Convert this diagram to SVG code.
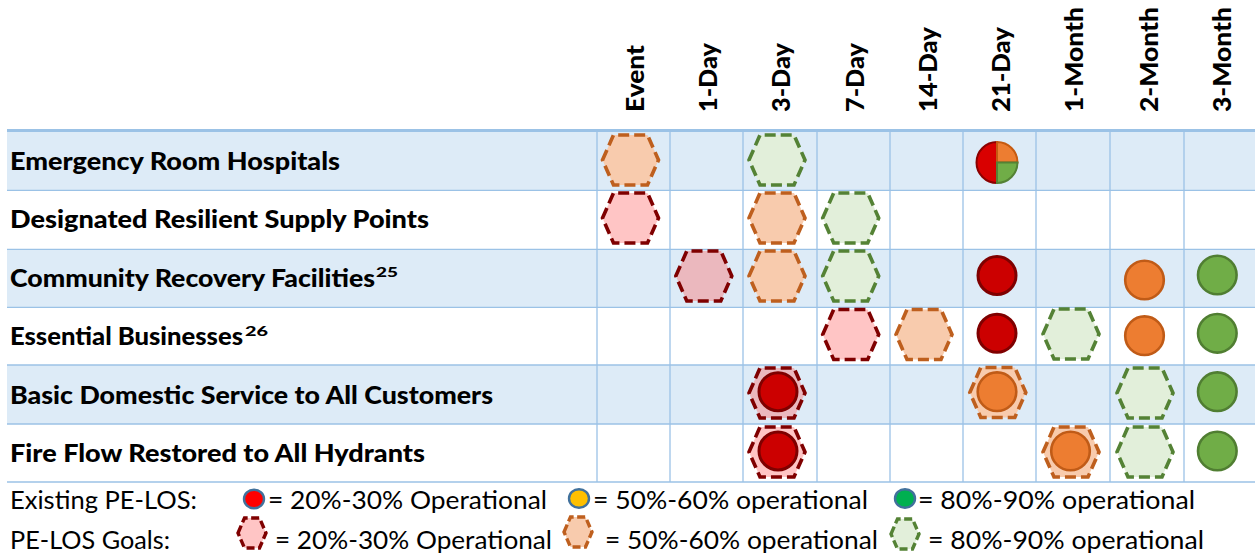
<svg xmlns="http://www.w3.org/2000/svg" xmlns:xlink="http://www.w3.org/1999/xlink" width="1255" height="559" viewBox="0 0 1255 559">
<style>
text{font-family:Lato,"Open Sans","Liberation Sans",sans-serif;fill:#000}
.lbl{font-weight:900;font-size:24px}
.sup{font-weight:900;font-size:14px}
.hdr{font-weight:900;font-size:25.5px}
.leg{font-weight:400;font-size:25px}
.grid{stroke:#9BC2E6;stroke-width:1.3;fill:none}
.band{fill:#DDEBF7}
.hex{stroke-width:3.6;stroke-dasharray:11 5}
.hexs{stroke-width:3.4;stroke-dasharray:8 3.5}
.hr{stroke:#7F0000;fill:#FFC5C5}
.hrb{stroke:#7F0000;fill:#EBB8BE}
.ho{stroke:#BE5F1E;fill:#F8CBAD}
.hg{stroke:#548235;fill:#E2EFDA}
.cr{fill:#CC0000;stroke:#7F0000;stroke-width:3}
.co{fill:#ED7D31;stroke:#C05B17;stroke-width:2.6}
.cg{fill:#70AD47;stroke:#507E32;stroke-width:2.6}
.lc{stroke:#41719C;stroke-width:2.4}
</style>
<defs>
<polygon id="hx" points="-28,0 -17,-25 17,-25 28,0 17,25 -17,25"/>
<polygon id="hxs" points="-14,0 -7.5,-15 7.5,-15 14,0 7.5,15 -7.5,15"/>
</defs>
<rect width="1255" height="559" fill="#fff"/>
<g id="table">
<rect class="band" x="7" y="131" width="1248" height="59"/>
<rect class="band" x="7" y="249" width="1248" height="58"/>
<rect class="band" x="7" y="365" width="1248" height="59"/>
<rect x="7" y="129" width="1248" height="3" fill="#9BC2E6"/>
<g class="grid">
<line x1="7" y1="190.3" x2="1255" y2="190.3"/>
<line x1="7" y1="249.3" x2="1255" y2="249.3"/>
<line x1="7" y1="307.3" x2="1255" y2="307.3"/>
<line x1="7" y1="365" x2="1255" y2="365"/>
<line x1="7" y1="424" x2="1255" y2="424"/>
<line x1="7" y1="482" x2="1255" y2="482"/>
<line x1="597" y1="130" x2="597" y2="482"/>
<line x1="670" y1="130" x2="670" y2="482"/>
<line x1="743" y1="130" x2="743" y2="482"/>
<line x1="817" y1="130" x2="817" y2="482"/>
<line x1="890" y1="130" x2="890" y2="482"/>
<line x1="963" y1="130" x2="963" y2="482"/>
<line x1="1036" y1="130" x2="1036" y2="482"/>
<line x1="1110" y1="130" x2="1110" y2="482"/>
<line x1="1184" y1="130" x2="1184" y2="482"/>
</g>
</g>
<g id="headers">
<text class="hdr" transform="translate(643.5,112) rotate(-90)" textLength="67" lengthAdjust="spacingAndGlyphs">Event</text>
<text class="hdr" transform="translate(716.5,112) rotate(-90)" textLength="69" lengthAdjust="spacingAndGlyphs">1-Day</text>
<text class="hdr" transform="translate(790,112) rotate(-90)" textLength="69" lengthAdjust="spacingAndGlyphs">3-Day</text>
<text class="hdr" transform="translate(863.5,112) rotate(-90)" textLength="69" lengthAdjust="spacingAndGlyphs">7-Day</text>
<text class="hdr" transform="translate(936.5,112) rotate(-90)" textLength="85" lengthAdjust="spacingAndGlyphs">14-Day</text>
<text class="hdr" transform="translate(1009.5,112) rotate(-90)" textLength="85" lengthAdjust="spacingAndGlyphs">21-Day</text>
<text class="hdr" transform="translate(1083,112) rotate(-90)" textLength="105" lengthAdjust="spacingAndGlyphs">1-Month</text>
<text class="hdr" transform="translate(1157.5,112) rotate(-90)" textLength="105" lengthAdjust="spacingAndGlyphs">2-Month</text>
<text class="hdr" transform="translate(1230.5,112) rotate(-90)" textLength="105" lengthAdjust="spacingAndGlyphs">3-Month</text>
</g>
<g id="row-labels">
<text class="lbl" x="10" y="169.5" textLength="330" lengthAdjust="spacingAndGlyphs">Emergency Room Hospitals</text>
<text class="lbl" x="10" y="228" textLength="419" lengthAdjust="spacingAndGlyphs">Designated Resilient Supply Points</text>
<text class="lbl" x="10" y="286.5" textLength="365" lengthAdjust="spacingAndGlyphs">Community Recovery Facilities</text>
<text class="sup" x="376" y="277" textLength="22" lengthAdjust="spacingAndGlyphs">25</text>
<text class="lbl" x="10" y="345" textLength="233" lengthAdjust="spacingAndGlyphs">Essential Businesses</text>
<text class="sup" x="245" y="335.5" textLength="23" lengthAdjust="spacingAndGlyphs">26</text>
<text class="lbl" x="10" y="403.5" textLength="483" lengthAdjust="spacingAndGlyphs">Basic Domestic Service to All Customers</text>
<text class="lbl" x="10" y="462" textLength="415" lengthAdjust="spacingAndGlyphs">Fire Flow Restored to All Hydrants</text>
</g>
<g id="row1">
<use xlink:href="#hx" href="#hx" class="hex ho" x="630.5" y="160"/>
<use xlink:href="#hx" href="#hx" class="hex hg" x="777" y="160"/>
<g id="pie-21day">
<path d="M997,142 A20.5,20.5 0 0 0 997,183 Z" fill="#D90000" stroke="#8B0000" stroke-width="2"/>
<path d="M997,162.5 L997,142 A20.5,20.5 0 0 1 1017.5,162.5 Z" fill="#ED7D31" stroke="#C55A11" stroke-width="2"/>
<path d="M997,162.5 L1017.5,162.5 A20.5,20.5 0 0 1 997,183 Z" fill="#70AD47" stroke="#548235" stroke-width="2"/>
</g>
</g>
<g id="row2">
<use xlink:href="#hx" href="#hx" class="hex hr" x="630.5" y="218"/>
<use xlink:href="#hx" href="#hx" class="hex ho" x="777" y="218"/>
<use xlink:href="#hx" href="#hx" class="hex hg" x="850.7" y="218"/>
</g>
<g id="row3">
<use xlink:href="#hx" href="#hx" class="hex hrb" x="703.8" y="276"/>
<use xlink:href="#hx" href="#hx" class="hex ho" x="777" y="276"/>
<use xlink:href="#hx" href="#hx" class="hex hg" x="850.7" y="276"/>
<circle class="cr" cx="997" cy="275.5" r="19"/>
<circle class="co" cx="1144.5" cy="280" r="19.3"/>
<circle class="cg" cx="1217.3" cy="275" r="19.3"/>
</g>
<g id="row4">
<use xlink:href="#hx" href="#hx" class="hex hr" x="850.7" y="334.5"/>
<use xlink:href="#hx" href="#hx" class="hex ho" x="924" y="334.5"/>
<circle class="cr" cx="997" cy="333.3" r="19"/>
<use xlink:href="#hx" href="#hx" class="hex hg" x="1071" y="334"/>
<circle class="co" cx="1144.5" cy="335.7" r="19.3"/>
<circle class="cg" cx="1217.3" cy="333.3" r="19.3"/>
</g>
<g id="row5">
<use xlink:href="#hx" href="#hx" class="hex hrb" x="777" y="393"/>
<circle class="cr" cx="778" cy="391.7" r="19"/>
<use xlink:href="#hx" href="#hx" class="hex ho" x="997.8" y="392.5"/>
<circle class="co" cx="997" cy="391.7" r="19.3"/>
<use xlink:href="#hx" href="#hx" class="hex hg" x="1145" y="393"/>
<circle class="cg" cx="1217.3" cy="391.7" r="19.3"/>
</g>
<g id="row6">
<use xlink:href="#hx" href="#hx" class="hex hr" x="777" y="452"/>
<circle class="cr" cx="778" cy="451" r="19"/>
<use xlink:href="#hx" href="#hx" class="hex ho" x="1071" y="452"/>
<circle class="co" cx="1070.5" cy="451" r="19.3"/>
<use xlink:href="#hx" href="#hx" class="hex hg" x="1145" y="452"/>
<circle class="cg" cx="1217.3" cy="451" r="19.3"/>
</g>
<g id="legend">
<text class="leg" x="10" y="509" textLength="187" lengthAdjust="spacingAndGlyphs">Existing PE-LOS:</text>
<ellipse class="lc" cx="254" cy="499" rx="10" ry="9.3" fill="#FF0000"/>
<text class="leg" x="268" y="509" textLength="279" lengthAdjust="spacingAndGlyphs">= 20%-30% Operational</text>
<ellipse class="lc" cx="579" cy="498.5" rx="10" ry="9.3" fill="#FFC000"/>
<text class="leg" x="593" y="509" textLength="275" lengthAdjust="spacingAndGlyphs">= 50%-60% operational</text>
<ellipse class="lc" cx="905" cy="498.5" rx="10" ry="9.3" fill="#00B050"/>
<text class="leg" x="918" y="509" textLength="277" lengthAdjust="spacingAndGlyphs">= 80%-90% operational</text>
<text class="leg" x="10" y="549" textLength="160" lengthAdjust="spacingAndGlyphs">PE-LOS Goals:</text>
<use xlink:href="#hxs" href="#hxs" class="hexs hr" x="252" y="533"/>
<text class="leg" x="275" y="549" textLength="277" lengthAdjust="spacingAndGlyphs">= 20%-30% Operational</text>
<use xlink:href="#hxs" href="#hxs" class="hexs ho" x="578" y="532"/>
<text class="leg" x="605" y="549" textLength="273" lengthAdjust="spacingAndGlyphs">= 50%-60% operational</text>
<use xlink:href="#hxs" href="#hxs" class="hexs hg" x="905" y="534"/>
<text class="leg" x="928" y="549" textLength="276" lengthAdjust="spacingAndGlyphs">= 80%-90% operational</text>
</g>
</svg>
